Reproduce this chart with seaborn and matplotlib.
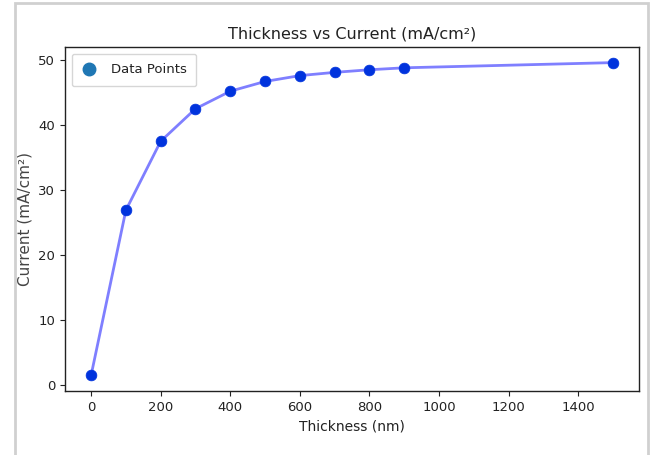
import matplotlib
matplotlib.use("Agg")
import matplotlib.pyplot as plt
from matplotlib.lines import Line2D
from matplotlib.patches import Rectangle
import seaborn as sns
import pandas as pd

thickness = [0, 100, 200, 300, 400, 500, 600, 700, 800, 900, 1500]
current = [1.5, 26.9, 37.5, 42.5, 45.2, 46.7, 47.6, 48.1, 48.5, 48.8, 49.6]
x_ticks = [0, 200, 400, 600, 800, 1000, 1200, 1400]
y_ticks = [0, 10, 20, 30, 40, 50]

df = pd.DataFrame({"Thickness": thickness, "Current": current})

sns.set_style("ticks")
plt.rcParams["font.family"] = ["DejaVu Sans"]
plt.rcParams["text.color"] = "#222222"
plt.rcParams["axes.labelcolor"] = "#222222"
plt.rcParams["xtick.color"] = "#222222"
plt.rcParams["ytick.color"] = "#222222"

fig = plt.figure(figsize=(6.54, 4.55), dpi=100)
fig.patch.set_facecolor("white")
fig.patches.append(Rectangle((14.5 / 654, -0.1), (648 - 14.5) / 654, 1 + 0.1 - 3.5 / 455,
                             transform=fig.transFigure, fill=False,
                             edgecolor="#d0d0d0", linewidth=2))
ax = fig.add_axes([65 / 654, 1 - 391 / 455, (639 - 65) / 654, (391 - 47) / 455])

sns.lineplot(data=df, x="Thickness", y="Current", ax=ax, color="blue", alpha=0.5,
             linewidth=2, legend=False)
sns.scatterplot(data=df, x="Thickness", y="Current", ax=ax, color="#0033dd", s=60,
                edgecolor="#0033dd", linewidth=0.5, legend=False, zorder=3)

ax.set_xlim(-75, 1575)
ax.set_ylim(-0.9, 52.0)
ax.set_xticks(x_ticks)
ax.set_yticks(y_ticks)
ax.tick_params(labelsize=9.5, colors="#222222")
for s in ax.spines.values():
    s.set_visible(True)
    s.set_linewidth(1.0)
    s.set_color("#222222")

ax.set_title("Thickness vs Current (mA/cm²)", fontsize=11.5)
ax.set_xlabel("Thickness (nm)", fontsize=10)
ax.set_ylabel("Current (mA/cm²)", fontsize=11, color="#444444")

handle = Line2D([], [], marker="o", linestyle="none", color="#1f77b4", markersize=9)
ax.legend([handle], ["Data Points"], loc="upper left", fontsize=9.5, frameon=True,
          handlelength=1.2, handletextpad=1.0, borderpad=0.75)

fig.savefig("out.png", dpi=100)
